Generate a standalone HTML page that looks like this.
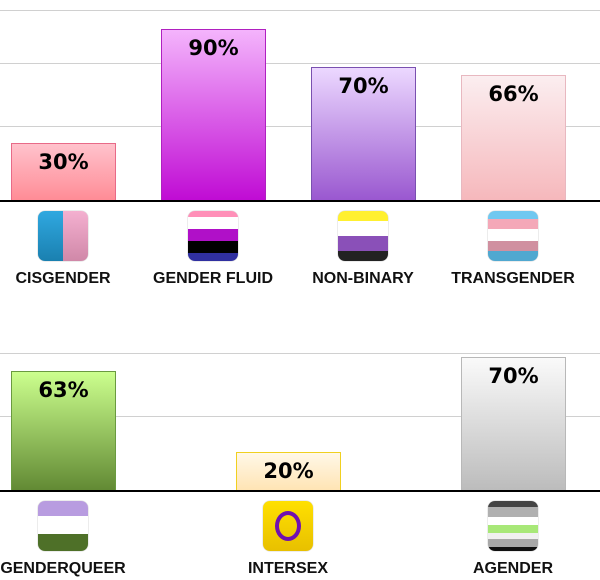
<!DOCTYPE html>
<html><head><meta charset="utf-8"><style>
body{margin:0;width:600px;height:580px;background:#fff;position:relative;overflow:hidden;font-family:"Liberation Sans","DejaVu Sans",sans-serif}
.g{position:absolute;left:0;width:600px;height:1px;background:#d0d0d0}
.base{position:absolute;left:0;width:600px;height:2px;background:#000}
.bar{position:absolute;box-sizing:border-box;border:1px solid;text-align:center;font-weight:bold;font-size:21px;font-family:"DejaVu Sans",sans-serif;line-height:36px;color:#000}
.ic{position:absolute;width:50px;height:50px;border-radius:7px;overflow:hidden;box-shadow:0 0 1px #888}
.ic div{width:100%}
.lb{position:absolute;width:200px;margin-left:-100px;text-align:center;font-weight:bold;font-size:16px;font-family:"Liberation Sans",sans-serif;color:#111}
</style></head><body>
<div class="g" style="top:10px"></div><div class="g" style="top:63px"></div><div class="g" style="top:126px"></div>
<div class="g" style="top:353px"></div><div class="g" style="top:416px"></div>
<div class="bar" style="left:11px;top:143px;width:105px;height:58px;border-color:#e86a88;background:linear-gradient(#ffc2cc,#ff8c96)">30%</div>
<div class="bar" style="left:161px;top:29px;width:105px;height:172px;border-color:#b020c0;background:linear-gradient(#f4b4fc,#c00cd4)">90%</div>
<div class="bar" style="left:311px;top:67px;width:105px;height:134px;border-color:#7a50b0;background:linear-gradient(#ecd8ff,#9a58d0)">70%</div>
<div class="bar" style="left:461px;top:75px;width:105px;height:126px;border-color:#e8b8c0;background:linear-gradient(#fbeef0,#f6b8bc)">66%</div>
<div class="base" style="top:200px"></div>
<div class="bar" style="left:11px;top:371px;width:105px;height:120px;border-color:#6a9a40;background:linear-gradient(#ccff8e,#628a34)">63%</div>
<div class="bar" style="left:236px;top:452px;width:105px;height:39px;border-color:#f0d020;background:linear-gradient(#fff8e8,#ffe4b4)">20%</div>
<div class="bar" style="left:461px;top:357px;width:105px;height:134px;border-color:#b8b8b8;background:linear-gradient(#fafafa,#bcbcbc)">70%</div>
<div class="base" style="top:490px"></div>

<div class="ic" style="left:38px;top:211px;display:flex"><div style="width:50%;background:linear-gradient(#30a8e0,#1a80b0)"></div><div style="width:50%;background:linear-gradient(#f4b0d0,#d088a8)"></div></div>
<div class="ic" style="left:188px;top:211px"><div style="height:6px;background:#ff90b8"></div><div style="height:12px;background:#fff"></div><div style="height:12px;background:#b010c8"></div><div style="height:12px;background:#000"></div><div style="height:8px;background:#3030a0"></div></div>
<div class="ic" style="left:338px;top:211px"><div style="height:10px;background:#fff030"></div><div style="height:15px;background:#fff"></div><div style="height:15px;background:#8a50b8"></div><div style="height:10px;background:#222"></div></div>
<div class="ic" style="left:488px;top:211px"><div style="height:8px;background:#70c8f0"></div><div style="height:10px;background:#f4a8b8"></div><div style="height:12px;background:#fff"></div><div style="height:10px;background:#d090a0"></div><div style="height:10px;background:#50a8d0"></div></div>
<div class="lb" style="left:63px;top:270px">CISGENDER</div>
<div class="lb" style="left:213px;top:270px">GENDER FLUID</div>
<div class="lb" style="left:363px;top:270px">NON-BINARY</div>
<div class="lb" style="left:513px;top:270px">TRANSGENDER</div>

<div class="ic" style="left:38px;top:501px"><div style="height:15px;background:#b89ce0"></div><div style="height:18px;background:#fff"></div><div style="height:17px;background:#4e7028"></div></div>
<div class="ic" style="left:263px;top:501px;background:linear-gradient(#ffe000,#e8c000)"><div style="position:absolute;left:12px;top:10px;width:18px;height:22px;border:4px solid #7010b0;border-radius:50%"></div></div>
<div class="ic" style="left:488px;top:501px"><div style="height:6px;background:#444"></div><div style="height:10px;background:#b0b0b0"></div><div style="height:8px;background:#fff"></div><div style="height:8px;background:#a8e878"></div><div style="height:6px;background:#f0f0f0"></div><div style="height:8px;background:#a8a8a8"></div><div style="height:4px;background:#111"></div></div>
<div class="lb" style="left:63px;top:560px">GENDERQUEER</div>
<div class="lb" style="left:288px;top:560px">INTERSEX</div>
<div class="lb" style="left:513px;top:560px">AGENDER</div>
</body></html>
